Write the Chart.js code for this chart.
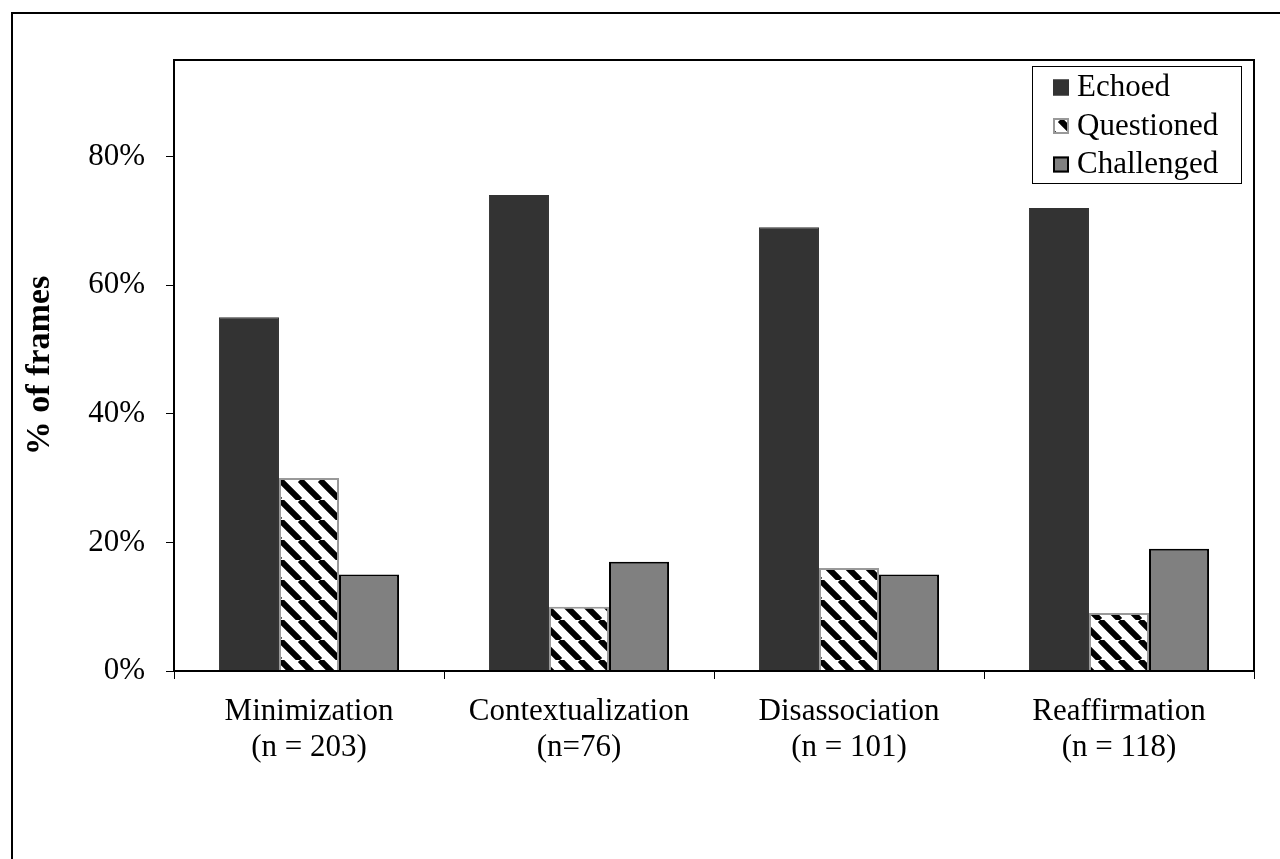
<!DOCTYPE html>
<html>
<head>
<meta charset="utf-8">
<script src="https://cdn.jsdelivr.net/npm/chart.js@4.4.0/dist/chart.umd.min.js"></script>
<style>
  html, body { margin: 0; padding: 0; background: #fff; overflow: hidden; }
</style>
</head>
<body>
<canvas id="myChart" width="1280" height="859"></canvas>
<script>
const categories = [
    ['Minimization', '(n = 203)'],
    ['Contextualization', '(n=76)'],
    ['Disassociation', '(n = 101)'],
    ['Reaffirmation', '(n = 118)']
];
const echoed = [55, 74, 69, 72];
const questioned = [30, 10, 16, 9];
const challenged = [15, 17, 15, 19];
const yTicks = [0, 20, 40, 60, 80];
const yMax = 95;

const serif = '"Liberation Serif", "Times New Roman", serif';
Chart.defaults.font.family = serif;
Chart.defaults.color = '#000';

// diagonal black/white stripes for the "Questioned" bars
function makeHatch() {
    const c = document.createElement('canvas');
    c.width = 20; c.height = 20;
    const g = c.getContext('2d');
    g.fillStyle = '#fff';
    g.fillRect(0, 0, 20, 20);
    g.strokeStyle = '#000';
    g.lineWidth = 6;
    g.beginPath();
    for (const o of [-20, 0, 20]) { g.moveTo(o, 0); g.lineTo(o + 20, 20); }
    g.stroke();
    return g.createPattern(c, 'repeat');
}
const hatch = makeHatch();

// outer frame + box round the plot area
const frames = {
    id: 'frames',
    beforeDraw(chart) {
        const ctx = chart.ctx;
        ctx.save();
        ctx.strokeStyle = '#000';
        ctx.lineWidth = 2;
        ctx.strokeRect(12, 13, 1400, 1000);
        ctx.restore();
    },
    afterDraw(chart) {
        const {ctx, chartArea: a} = chart;
        ctx.save();
        ctx.strokeStyle = '#000';
        ctx.lineWidth = 2;
        ctx.strokeRect(a.left, a.top, a.right - a.left, a.bottom - a.top);
        ctx.restore();
    }
};

// legend drawn inside the plot, top right
const boxLegend = {
    id: 'boxLegend',
    afterDraw(chart) {
        const {ctx, chartArea} = chart;
        const sets = chart.data.datasets;
        ctx.save();
        ctx.font = '31px ' + serif;
        const w = 209;
        const h = 117;
        const right = chartArea.right - 13;
        const top = chartArea.top + 6;
        const left = right - w;
        ctx.fillStyle = '#fff';
        ctx.fillRect(left, top, w, h);
        ctx.strokeStyle = '#000';
        ctx.lineWidth = 1;
        ctx.strokeRect(Math.round(left) + 0.5, top + 0.5, w, h);
        sets.forEach((d, i) => {
            const cy = top + 21 + i * 38.5;
            const sx = left + 21;
            ctx.fillStyle = d.backgroundColor;
            ctx.fillRect(sx, cy - 7.5, 16, 16);
            ctx.strokeStyle = d.borderColor;
            ctx.lineWidth = 2;
            ctx.strokeRect(sx + 1, cy - 6.5, 14, 14);
            ctx.fillStyle = '#000';
            ctx.textBaseline = 'middle';
            ctx.textAlign = 'left';
            ctx.fillText(d.label, sx + 16 + 8, cy + 1);
        });
        ctx.restore();
    }
};

const ctx = document.getElementById('myChart').getContext('2d');
const chart = new Chart(ctx, {
    type: 'bar',
    data: {
        labels: categories,
        datasets: [
            { label: 'Echoed', data: echoed, backgroundColor: '#333333', borderColor: '#333333', borderWidth: 1 },
            { label: 'Questioned', data: questioned, backgroundColor: hatch, borderColor: '#999999', borderWidth: 2 },
            { label: 'Challenged', data: challenged, backgroundColor: '#808080', borderColor: '#000000', borderWidth: 2 }
        ]
    },
    options: {
        responsive: false,
        animation: false,
        layout: { padding: { top: 60, right: 26, left: 0, bottom: 0 } },
        datasets: { bar: { categoryPercentage: 0.667, barPercentage: 1 } },
        plugins: { legend: { display: false }, tooltip: { enabled: false } },
        scales: {
            x: {
                afterFit: s => { s.height = 188; },
                grid: { drawOnChartArea: false, drawTicks: true, tickLength: 8, color: '#000', lineWidth: 1 },
                border: { display: true, color: '#000', width: 2 },
                ticks: {
                    autoSkip: false, maxRotation: 0, padding: 15,
                    font: { size: 31, lineHeight: '36px' }, color: '#000'
                }
            },
            y: {
                min: 0, max: yMax,
                afterFit: s => { s.width = 174; },
                afterBuildTicks: s => { s.ticks = yTicks.map(v => ({ value: v })); },
                grid: { drawOnChartArea: false, drawTicks: true, tickLength: 8, color: '#000', lineWidth: 1 },
                border: { display: true, color: '#000', width: 2 },
                ticks: {
                    padding: 21, font: { size: 31 }, color: '#000',
                    callback: v => v + '%'
                },
                title: {
                    display: true, text: '% of frames', color: '#000',
                    font: { size: 34, weight: 'bold' }, padding: { top: 20, bottom: 0 }
                }
            }
        }
    },
    plugins: [frames, boxLegend]
});
</script>
</body>
</html>
